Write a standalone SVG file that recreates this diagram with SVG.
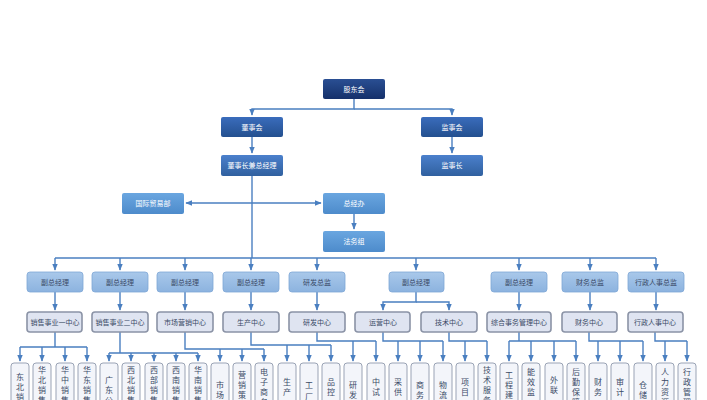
<svg xmlns="http://www.w3.org/2000/svg" width="707" height="400" viewBox="0 0 707 400">
<defs>
<linearGradient id="gDark" x1="0" y1="0" x2="0" y2="1"><stop offset="0" stop-color="#2a4f93"/><stop offset="1" stop-color="#15306a"/></linearGradient>
<linearGradient id="gMid" x1="0" y1="0" x2="0" y2="1"><stop offset="0" stop-color="#3a6cbc"/><stop offset="1" stop-color="#24508f"/></linearGradient>
<linearGradient id="gMid2" x1="0" y1="0" x2="0" y2="1"><stop offset="0" stop-color="#4b80cc"/><stop offset="1" stop-color="#30609f"/></linearGradient>
<linearGradient id="gLight" x1="0" y1="0" x2="0" y2="1"><stop offset="0" stop-color="#6aa6e0"/><stop offset="1" stop-color="#4d8bcb"/></linearGradient>
<linearGradient id="gVp" x1="0" y1="0" x2="0" y2="1"><stop offset="0" stop-color="#a9c8ea"/><stop offset="1" stop-color="#8cb3df"/></linearGradient>
<marker id="ar" viewBox="0 0 10 10" refX="9" refY="5" markerWidth="5" markerHeight="5" orient="auto-start-reverse"><path d="M0,1 L10,5 L0,9 z" fill="#4a7fc0"/></marker>
</defs>
<style>
.w{font-family:"Noto Sans CJK SC","Liberation Sans",sans-serif;font-size:7px;fill:#fff;text-anchor:middle}
.d{font-family:"Noto Sans CJK SC","Liberation Sans",sans-serif;font-size:7px;fill:#3a4a66;text-anchor:middle}
.v{font-family:"Noto Sans CJK SC","Liberation Sans",sans-serif;font-size:8px;fill:#3a4a66;text-anchor:middle}
.c path,.c line{stroke:#4a7fc0;stroke-width:1.4;fill:none}
.a{marker-end:url(#ar)}
.vp{fill:url(#gVp);stroke:#7fa7d6;stroke-width:0.8}
.ct{fill:#dfe4f1;stroke:#8b93a6;stroke-width:1.6}
.lf{fill:#f3f5fa;stroke:#9aa3b5;stroke-width:1}
</style>
<rect width="707" height="400" fill="#fff"/>
<g class="c">
<path d="M354,99 V109 H252 V115" class="a"/>
<path d="M354,109 H452 V115" class="a"/>
<line x1="252" y1="137" x2="252" y2="153" class="a"/>
<line x1="452" y1="137" x2="452" y2="153" class="a"/>
<path d="M252,176 V258"/>
<line x1="252" y1="203" x2="186" y2="203" class="a"/>
<line x1="252" y1="203" x2="321" y2="203" class="a"/>
<line x1="354" y1="214" x2="354" y2="229" class="a"/>
<line x1="55" y1="258" x2="656" y2="258"/>
<line x1="55" y1="258" x2="55" y2="270" class="a"/>
<line x1="120" y1="258" x2="120" y2="270" class="a"/>
<line x1="185" y1="258" x2="185" y2="270" class="a"/>
<line x1="251" y1="258" x2="251" y2="270" class="a"/>
<line x1="317" y1="258" x2="317" y2="270" class="a"/>
<line x1="416" y1="258" x2="416" y2="270" class="a"/>
<line x1="519" y1="258" x2="519" y2="270" class="a"/>
<line x1="590" y1="258" x2="590" y2="270" class="a"/>
<line x1="656" y1="258" x2="656" y2="270" class="a"/>
<line x1="55" y1="292" x2="55" y2="310" class="a"/>
<line x1="120" y1="292" x2="120" y2="310" class="a"/>
<line x1="185" y1="292" x2="185" y2="310" class="a"/>
<line x1="251" y1="292" x2="251" y2="310" class="a"/>
<line x1="317" y1="292" x2="317" y2="310" class="a"/>
<path d="M416,292 V302 H383 V310" class="a"/>
<path d="M416,302 H449 V310" class="a"/>
<line x1="519" y1="292" x2="519" y2="310" class="a"/>
<line x1="590" y1="292" x2="590" y2="310" class="a"/>
<line x1="656" y1="292" x2="656" y2="310" class="a"/>
<path d="M55,332 V347 H20 M20,347 H87"/>
<path d="M120,332 V353 M109,353 H198"/>
<path d="M185,332 V349 H264"/>
<path d="M251,332 V345 H331"/>
<path d="M317,332 V341 H376"/>
<path d="M383,332 V341 H443"/>
<path d="M449,332 V341 H487"/>
<path d="M519,332 V341 H509 M509,341 H576"/>
<path d="M589,332 V341 H643"/>
<path d="M655,332 V341 H687"/>
<line x1="20" y1="347" x2="20" y2="361" class="a"/><line x1="42" y1="347" x2="42" y2="361" class="a"/><line x1="65" y1="347" x2="65" y2="361" class="a"/><line x1="87" y1="347" x2="87" y2="361" class="a"/>
<line x1="109" y1="353" x2="109" y2="361" class="a"/><line x1="131" y1="353" x2="131" y2="361" class="a"/><line x1="154" y1="353" x2="154" y2="361" class="a"/><line x1="176" y1="353" x2="176" y2="361" class="a"/><line x1="198" y1="353" x2="198" y2="361" class="a"/>
<line x1="220" y1="349" x2="220" y2="361" class="a"/><line x1="242" y1="349" x2="242" y2="361" class="a"/><line x1="264" y1="349" x2="264" y2="361" class="a"/>
<line x1="287" y1="345" x2="287" y2="361" class="a"/><line x1="309" y1="345" x2="309" y2="361" class="a"/><line x1="331" y1="345" x2="331" y2="361" class="a"/>
<line x1="353" y1="341" x2="353" y2="361" class="a"/><line x1="376" y1="341" x2="376" y2="361" class="a"/>
<line x1="398" y1="341" x2="398" y2="361" class="a"/><line x1="420" y1="341" x2="420" y2="361" class="a"/><line x1="443" y1="341" x2="443" y2="361" class="a"/>
<line x1="465" y1="341" x2="465" y2="361" class="a"/><line x1="487" y1="341" x2="487" y2="361" class="a"/>
<line x1="509" y1="341" x2="509" y2="361" class="a"/><line x1="531" y1="341" x2="531" y2="361" class="a"/><line x1="554" y1="341" x2="554" y2="361" class="a"/><line x1="576" y1="341" x2="576" y2="361" class="a"/>
<line x1="598" y1="341" x2="598" y2="361" class="a"/><line x1="620" y1="341" x2="620" y2="361" class="a"/><line x1="643" y1="341" x2="643" y2="361" class="a"/>
<line x1="665" y1="341" x2="665" y2="361" class="a"/><line x1="687" y1="341" x2="687" y2="361" class="a"/>
</g>
<g id="n-gdh"><rect x="323" y="79" width="62" height="20" rx="2" fill="url(#gDark)"/><text x="354" y="92" class="w">股东会</text></g>
<g id="n-dsh"><rect x="221" y="117" width="62" height="20" rx="2" fill="url(#gMid)"/><text x="252" y="130" class="w">董事会</text></g>
<g id="n-jsh"><rect x="421" y="117" width="62" height="20" rx="2" fill="url(#gMid)"/><text x="452" y="130" class="w">监事会</text></g>
<g id="n-dsz"><rect x="221" y="155" width="62" height="21" rx="2" fill="url(#gMid2)"/><text x="252" y="168" class="w">董事长兼总经理</text></g>
<g id="n-jsz"><rect x="421" y="155" width="62" height="21" rx="2" fill="url(#gMid2)"/><text x="452" y="168" class="w">监事长</text></g>
<g id="n-gjmy"><rect x="122" y="193" width="62" height="21" rx="2" fill="url(#gLight)"/><text x="153" y="206" class="w">国际贸易部</text></g>
<g id="n-zjb"><rect x="323" y="193" width="62" height="21" rx="2" fill="url(#gLight)"/><text x="354" y="206" class="w">总经办</text></g>
<g id="n-fwz"><rect x="323" y="231" width="62" height="21" rx="2" fill="url(#gLight)"/><text x="354" y="244" class="w">法务组</text></g>
<g id="vp1"><rect x="27" y="272" width="56" height="20" rx="3" class="vp"/><text x="55" y="285" class="d">副总经理</text></g>
<g id="vp2"><rect x="92" y="272" width="56" height="20" rx="3" class="vp"/><text x="120" y="285" class="d">副总经理</text></g>
<g id="vp3"><rect x="157" y="272" width="56" height="20" rx="3" class="vp"/><text x="185" y="285" class="d">副总经理</text></g>
<g id="vp4"><rect x="223" y="272" width="56" height="20" rx="3" class="vp"/><text x="251" y="285" class="d">副总经理</text></g>
<g id="vp5"><rect x="289" y="272" width="56" height="20" rx="3" class="vp"/><text x="317" y="285" class="d">研发总监</text></g>
<g id="vp6"><rect x="389" y="272" width="55" height="20" rx="3" class="vp"/><text x="416" y="285" class="d">副总经理</text></g>
<g id="vp7"><rect x="491" y="272" width="56" height="20" rx="3" class="vp"/><text x="519" y="285" class="d">副总经理</text></g>
<g id="vp8"><rect x="562" y="272" width="56" height="20" rx="3" class="vp"/><text x="590" y="285" class="d">财务总监</text></g>
<g id="vp9"><rect x="628" y="272" width="56" height="20" rx="3" class="vp"/><text x="656" y="285" class="d">行政人事总监</text></g>
<g id="c1"><rect x="27" y="312" width="55" height="20" rx="3" class="ct"/><text x="55" y="325" class="d">销售事业一中心</text></g>
<g id="c2"><rect x="92" y="312" width="56" height="20" rx="3" class="ct"/><text x="120" y="325" class="d">销售事业二中心</text></g>
<g id="c3"><rect x="157" y="312" width="56" height="20" rx="3" class="ct"/><text x="185" y="325" class="d">市场营销中心</text></g>
<g id="c4"><rect x="223" y="312" width="56" height="20" rx="3" class="ct"/><text x="251" y="325" class="d">生产中心</text></g>
<g id="c5"><rect x="289" y="312" width="56" height="20" rx="3" class="ct"/><text x="317" y="325" class="d">研发中心</text></g>
<g id="c6"><rect x="355" y="312" width="55" height="20" rx="3" class="ct"/><text x="383" y="325" class="d">运营中心</text></g>
<g id="c7"><rect x="421" y="312" width="56" height="20" rx="3" class="ct"/><text x="449" y="325" class="d">技术中心</text></g>
<g id="c8"><rect x="487" y="312" width="64" height="20" rx="3" class="ct"/><text x="519" y="325" class="d">综合事务管理中心</text></g>
<g id="c9"><rect x="562" y="312" width="55" height="20" rx="3" class="ct"/><text x="589" y="325" class="d">财务中心</text></g>
<g id="c10"><rect x="628" y="312" width="55" height="20" rx="3" class="ct"/><text x="655" y="325" class="d">行政人事中心</text></g>
<g id="leaves">
<g id="l1"><rect x="11" y="363" width="18" height="60" rx="3" class="lf"/><text class="v" x="20" y="380"><tspan x="20">东</tspan><tspan x="20" dy="10">北</tspan><tspan x="20" dy="10">销</tspan><tspan x="20" dy="10">售</tspan></text></g>
<g id="l2"><rect x="33" y="363" width="18" height="60" rx="3" class="lf"/><text class="v" x="42" y="373"><tspan x="42">华</tspan><tspan x="42" dy="10">北</tspan><tspan x="42" dy="10">销</tspan><tspan x="42" dy="10">售</tspan></text></g>
<g id="l3"><rect x="56" y="363" width="18" height="60" rx="3" class="lf"/><text class="v" x="65" y="373"><tspan x="65">华</tspan><tspan x="65" dy="10">中</tspan><tspan x="65" dy="10">销</tspan><tspan x="65" dy="10">售</tspan></text></g>
<g id="l4"><rect x="78" y="363" width="18" height="60" rx="3" class="lf"/><text class="v" x="87" y="373"><tspan x="87">华</tspan><tspan x="87" dy="10">东</tspan><tspan x="87" dy="10">销</tspan><tspan x="87" dy="10">售</tspan></text></g>
<g id="l5"><rect x="100" y="363" width="18" height="60" rx="3" class="lf"/><text class="v" x="109" y="383"><tspan x="109">广</tspan><tspan x="109" dy="10">东</tspan><tspan x="109" dy="10">公</tspan></text></g>
<g id="l6"><rect x="122" y="363" width="18" height="60" rx="3" class="lf"/><text class="v" x="131" y="373"><tspan x="131">西</tspan><tspan x="131" dy="10">北</tspan><tspan x="131" dy="10">销</tspan><tspan x="131" dy="10">售</tspan></text></g>
<g id="l7"><rect x="145" y="363" width="18" height="60" rx="3" class="lf"/><text class="v" x="154" y="373"><tspan x="154">西</tspan><tspan x="154" dy="10">部</tspan><tspan x="154" dy="10">销</tspan><tspan x="154" dy="10">售</tspan></text></g>
<g id="l8"><rect x="167" y="363" width="18" height="60" rx="3" class="lf"/><text class="v" x="176" y="373"><tspan x="176">西</tspan><tspan x="176" dy="10">南</tspan><tspan x="176" dy="10">销</tspan><tspan x="176" dy="10">售</tspan></text></g>
<g id="l9"><rect x="189" y="363" width="18" height="60" rx="3" class="lf"/><text class="v" x="198" y="373"><tspan x="198">华</tspan><tspan x="198" dy="10">南</tspan><tspan x="198" dy="10">销</tspan><tspan x="198" dy="10">售</tspan></text></g>
<g id="l10"><rect x="211" y="363" width="18" height="60" rx="3" class="lf"/><text class="v" x="220" y="388"><tspan x="220">市</tspan><tspan x="220" dy="10">场</tspan></text></g>
<g id="l11"><rect x="233" y="363" width="18" height="60" rx="3" class="lf"/><text class="v" x="242" y="378"><tspan x="242">营</tspan><tspan x="242" dy="10">销</tspan><tspan x="242" dy="10">策</tspan></text></g>
<g id="l12"><rect x="255" y="363" width="18" height="60" rx="3" class="lf"/><text class="v" x="264" y="375"><tspan x="264">电</tspan><tspan x="264" dy="10">子</tspan><tspan x="264" dy="10">商</tspan><tspan x="264" dy="10">务</tspan></text></g>
<g id="l13"><rect x="278" y="363" width="18" height="60" rx="3" class="lf"/><text class="v" x="287" y="385"><tspan x="287">生</tspan><tspan x="287" dy="10">产</tspan></text></g>
<g id="l14"><rect x="300" y="363" width="18" height="60" rx="3" class="lf"/><text class="v" x="309" y="388"><tspan x="309">工</tspan><tspan x="309" dy="12">厂</tspan></text></g>
<g id="l15"><rect x="322" y="363" width="18" height="60" rx="3" class="lf"/><text class="v" x="331" y="385"><tspan x="331">品</tspan><tspan x="331" dy="10">控</tspan></text></g>
<g id="l16"><rect x="344" y="363" width="18" height="60" rx="3" class="lf"/><text class="v" x="353" y="388"><tspan x="353">研</tspan><tspan x="353" dy="10">发</tspan></text></g>
<g id="l17"><rect x="367" y="363" width="18" height="60" rx="3" class="lf"/><text class="v" x="376" y="385"><tspan x="376">中</tspan><tspan x="376" dy="10">试</tspan></text></g>
<g id="l18"><rect x="389" y="363" width="18" height="60" rx="3" class="lf"/><text class="v" x="398" y="385"><tspan x="398">采</tspan><tspan x="398" dy="10">供</tspan></text></g>
<g id="l19"><rect x="411" y="363" width="18" height="60" rx="3" class="lf"/><text class="v" x="420" y="388"><tspan x="420">商</tspan><tspan x="420" dy="10">务</tspan></text></g>
<g id="l20"><rect x="434" y="363" width="18" height="60" rx="3" class="lf"/><text class="v" x="443" y="388"><tspan x="443">物</tspan><tspan x="443" dy="10">流</tspan></text></g>
<g id="l21"><rect x="456" y="363" width="18" height="60" rx="3" class="lf"/><text class="v" x="465" y="385"><tspan x="465">项</tspan><tspan x="465" dy="10">目</tspan></text></g>
<g id="l22"><rect x="478" y="363" width="18" height="60" rx="3" class="lf"/><text class="v" x="487" y="373"><tspan x="487">技</tspan><tspan x="487" dy="10">术</tspan><tspan x="487" dy="10">服</tspan><tspan x="487" dy="10">务</tspan></text></g>
<g id="l23"><rect x="500" y="363" width="18" height="60" rx="3" class="lf"/><text class="v" x="509" y="378"><tspan x="509">工</tspan><tspan x="509" dy="10">程</tspan><tspan x="509" dy="10">建</tspan></text></g>
<g id="l24"><rect x="522" y="363" width="18" height="60" rx="3" class="lf"/><text class="v" x="531" y="375"><tspan x="531">能</tspan><tspan x="531" dy="10">效</tspan><tspan x="531" dy="10">监</tspan></text></g>
<g id="l25"><rect x="545" y="363" width="18" height="60" rx="3" class="lf"/><text class="v" x="554" y="383"><tspan x="554">外</tspan><tspan x="554" dy="10">联</tspan></text></g>
<g id="l26"><rect x="567" y="363" width="18" height="60" rx="3" class="lf"/><text class="v" x="576" y="375"><tspan x="576">后</tspan><tspan x="576" dy="10">勤</tspan><tspan x="576" dy="10">保</tspan><tspan x="576" dy="10">障</tspan></text></g>
<g id="l27"><rect x="589" y="363" width="18" height="60" rx="3" class="lf"/><text class="v" x="598" y="385"><tspan x="598">财</tspan><tspan x="598" dy="10">务</tspan></text></g>
<g id="l28"><rect x="611" y="363" width="18" height="60" rx="3" class="lf"/><text class="v" x="620" y="385"><tspan x="620">审</tspan><tspan x="620" dy="10">计</tspan></text></g>
<g id="l29"><rect x="634" y="363" width="18" height="60" rx="3" class="lf"/><text class="v" x="643" y="388"><tspan x="643">仓</tspan><tspan x="643" dy="10">储</tspan></text></g>
<g id="l30"><rect x="656" y="363" width="18" height="60" rx="3" class="lf"/><text class="v" x="665" y="375"><tspan x="665">人</tspan><tspan x="665" dy="10">力</tspan><tspan x="665" dy="10">资</tspan><tspan x="665" dy="10">源</tspan></text></g>
<g id="l31"><rect x="678" y="363" width="18" height="60" rx="3" class="lf"/><text class="v" x="687" y="375"><tspan x="687">行</tspan><tspan x="687" dy="10">政</tspan><tspan x="687" dy="10">管</tspan><tspan x="687" dy="10">理</tspan></text></g>
</g>
</svg>
